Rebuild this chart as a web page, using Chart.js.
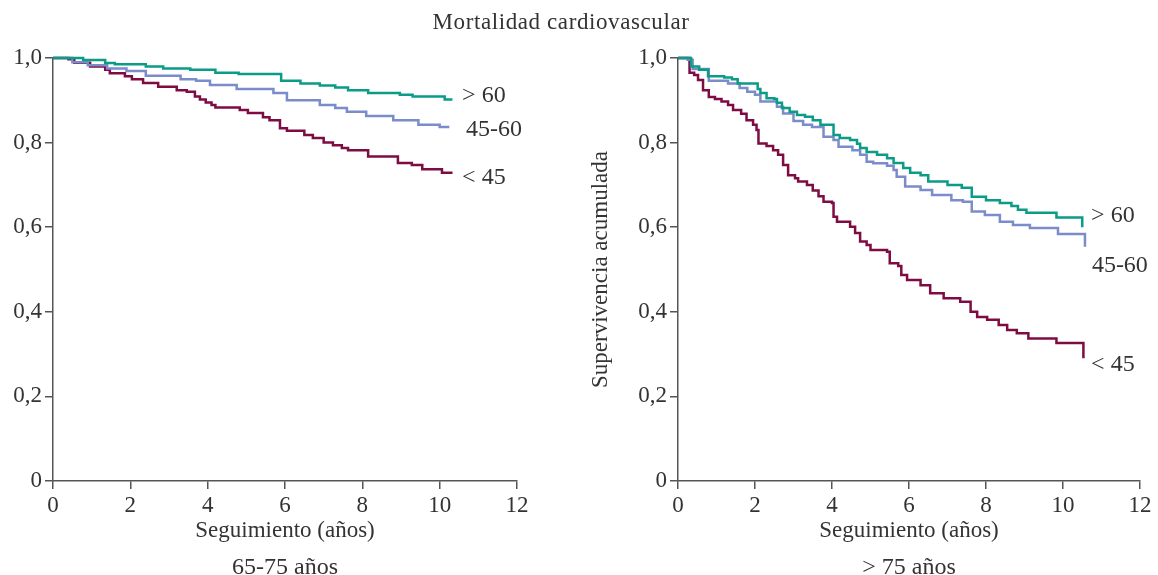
<!DOCTYPE html>
<html>
<head>
<meta charset="utf-8">
<title>Mortalidad cardiovascular</title>
<script src="https://cdn.jsdelivr.net/npm/chart.js@4"></script>
<style>
  body { margin: 0; background: #fff; }
  #wrap { position: relative; width: 1158px; height: 575px; font-family: "Liberation Serif", "DejaVu Serif", serif; color: #333; }
  canvas { position: absolute; top: 0; }
  .txt { position: absolute; font-size: 24px; white-space: nowrap; transform: translate(-50%, -50%); }
</style>
</head>
<body>
<div id="wrap">
  <canvas id="left" width="579" height="575" style="left:0"></canvas>
  <canvas id="right" width="579" height="575" style="left:579px"></canvas>
  <div class="txt" style="left:561px; top:22px; font-size:23px; letter-spacing:0.6px">Mortalidad cardiovascular</div>
  <div class="txt" style="left:285px; top:566px">65-75 años</div>
  <div class="txt" style="left:909px; top:566px">&gt; 75 años</div>
</div>
<script>
// series names
const groups = ['> 60', '45-60', '< 45'];
const colors = ['#0a9c86', '#7b8ccb', '#7e0c42'];

// 65-75 años: follow-up time (years) and cumulative survival at each step
const young_gt60_t = [0, 0.78, 1.35, 1.6, 2.4, 2.85, 3.55, 4.2, 4.8, 5.9, 6.4, 6.9, 7.3, 7.63, 8.15, 8.97, 9.3, 10.13, 10.33];
const young_gt60_s = [1.0, 0.995, 0.988, 0.985, 0.98, 0.975, 0.972, 0.965, 0.962, 0.946, 0.94, 0.935, 0.93, 0.924, 0.917, 0.913, 0.909, 0.902, 0.902];

const young_mid_t = [0, 0.5, 0.9, 1.4, 1.9, 2.4, 3.3, 3.7, 4.06, 4.75, 5.7, 6.05, 6.9, 7.3, 7.6, 8.1, 8.8, 9.45, 10.0, 10.25];
const young_mid_s = [1.0, 0.99, 0.983, 0.975, 0.969, 0.958, 0.95, 0.946, 0.936, 0.927, 0.917, 0.9, 0.889, 0.882, 0.873, 0.863, 0.853, 0.842, 0.837, 0.837];

const young_lt45_t = [0, 0.4, 0.55, 0.96, 1.35, 1.47, 1.86, 2.04, 2.33, 2.72, 3.2, 3.46, 3.67, 3.8, 3.95, 4.1, 4.2, 4.83, 5.04, 5.43, 5.6, 5.87, 6.05, 6.5, 6.72, 7.0, 7.24, 7.47, 7.63, 8.15, 8.92, 9.28, 9.55, 10.06, 10.3];
const young_lt45_s = [1.0, 0.997, 0.989, 0.98, 0.972, 0.964, 0.957, 0.95, 0.941, 0.932, 0.924, 0.92, 0.909, 0.902, 0.895, 0.889, 0.883, 0.877, 0.87, 0.86, 0.853, 0.834, 0.828, 0.818, 0.811, 0.8, 0.794, 0.787, 0.782, 0.767, 0.752, 0.747, 0.737, 0.729, 0.726];

// > 75 años
const old_gt60_t = [0, 0.34, 0.55, 0.78, 1.2, 1.4, 1.55, 2.07, 2.14, 2.3, 2.5, 2.57, 2.7, 2.9, 3.09, 3.3, 3.5, 3.7, 4.04, 4.2, 4.47, 4.65, 4.73, 4.9, 5.17, 5.43, 5.6, 5.85, 6.03, 6.3, 6.5, 7.0, 7.37, 7.63, 8.0, 8.36, 8.66, 8.83, 9.05, 9.83, 10.5];
const old_gt60_s = [1.0, 0.98, 0.972, 0.957, 0.954, 0.95, 0.94, 0.927, 0.917, 0.905, 0.903, 0.894, 0.882, 0.873, 0.865, 0.861, 0.853, 0.842, 0.818, 0.811, 0.806, 0.797, 0.787, 0.778, 0.771, 0.763, 0.752, 0.74, 0.729, 0.723, 0.708, 0.7, 0.693, 0.672, 0.664, 0.657, 0.65, 0.641, 0.634, 0.623, 0.6];

const old_mid_t = [0, 0.25, 0.38, 0.8, 1.3, 1.6, 1.8, 2.0, 2.14, 2.57, 2.73, 3.0, 3.25, 3.48, 3.78, 4.04, 4.17, 4.53, 4.73, 4.9, 5.07, 5.43, 5.6, 5.68, 5.9, 6.3, 6.6, 7.1, 7.4, 7.63, 7.97, 8.36, 8.7, 9.14, 9.87, 10.57];
const old_mid_s = [1.0, 0.996, 0.974, 0.946, 0.94, 0.929, 0.92, 0.913, 0.897, 0.885, 0.869, 0.851, 0.842, 0.837, 0.814, 0.806, 0.79, 0.782, 0.771, 0.755, 0.751, 0.745, 0.735, 0.719, 0.696, 0.688, 0.676, 0.664, 0.66, 0.637, 0.629, 0.613, 0.605, 0.598, 0.584, 0.554];

const old_lt45_t = [0, 0.3, 0.42, 0.52, 0.65, 0.8, 0.96, 1.13, 1.3, 1.43, 1.64, 1.78, 1.95, 2.04, 2.09, 2.3, 2.47, 2.6, 2.73, 2.86, 3.04, 3.12, 3.35, 3.5, 3.65, 3.78, 4.0, 4.04, 4.13, 4.47, 4.6, 4.73, 4.9, 5.0, 5.43, 5.5, 5.72, 5.8, 5.95, 6.3, 6.55, 6.9, 7.33, 7.6, 7.77, 8.03, 8.33, 8.55, 8.8, 9.1, 9.83, 10.53];
const old_lt45_s = [1.0, 0.965, 0.96, 0.948, 0.924, 0.908, 0.903, 0.897, 0.889, 0.877, 0.868, 0.853, 0.842, 0.83, 0.798, 0.792, 0.782, 0.771, 0.747, 0.723, 0.716, 0.708, 0.7, 0.687, 0.673, 0.66, 0.657, 0.625, 0.613, 0.601, 0.586, 0.566, 0.558, 0.546, 0.542, 0.515, 0.508, 0.487, 0.475, 0.463, 0.444, 0.432, 0.424, 0.4, 0.388, 0.381, 0.369, 0.357, 0.349, 0.337, 0.326, 0.29];

// axis ticks
const xTicks = [0, 2, 4, 6, 8, 10, 12];
const yTicks = [0, 0.2, 0.4, 0.6, 0.8, 1.0];

const FONT = '"Liberation Serif", "DejaVu Serif", serif';
Chart.defaults.font.family = FONT;
Chart.defaults.font.size = 23;
Chart.defaults.color = '#333';

const toPoints = (t, s) => t.map((v, i) => ({ x: v, y: s[i] }));

// writes the group names beside the curves
const groupLabels = {
  id: 'groupLabels',
  afterDatasetsDraw(chart, args, opts) {
    const { ctx, scales: { x, y } } = chart;
    ctx.save();
    ctx.font = '24px ' + FONT;
    ctx.fillStyle = '#333';
    ctx.textBaseline = 'middle';
    opts.items.forEach(it => {
      ctx.fillText(it.text, x.getPixelForValue(it.x), y.getPixelForValue(it.y));
    });
    ctx.restore();
  }
};

function makeChart(id, series, yWidth, padRight, yTitle, labelPos) {
  const axisColor = '#555';
  return new Chart(document.getElementById(id), {
    type: 'line',
    data: {
      datasets: series.map((pts, i) => ({
        label: groups[i],
        data: pts,
        borderColor: colors[i],
        borderWidth: 2.5,
        pointRadius: 0,
        stepped: 'before',
        fill: false,
        clip: 5
      }))
    },
    options: {
      responsive: false,
      animation: false,
      layout: { padding: { top: 58, left: 0, right: padRight, bottom: 30 } },
      plugins: {
        legend: { display: false },
        tooltip: { enabled: false },
        groupLabels: { items: labelPos }
      },
      scales: {
        x: {
          type: 'linear',
          min: 0,
          max: 12,
          afterBuildTicks: s => { s.ticks = xTicks.map(v => ({ value: v })); },
          ticks: { padding: 3, maxRotation: 0, autoSkip: false },
          grid: { drawOnChartArea: false, tickLength: 8, color: axisColor, lineWidth: 1.5 },
          border: { color: axisColor, width: 1.5 },
          title: { display: true, text: 'Seguimiento (años)', padding: 0 },
          afterFit: s => { s.height = 64; s.paddingLeft = 0; s.paddingRight = 0; }
        },
        y: {
          min: 0,
          max: 1,
          afterBuildTicks: s => { s.ticks = yTicks.map(v => ({ value: v })); },
          ticks: {
            padding: 3,
            callback: v => v === 0 ? '0' : v.toFixed(1).replace('.', ',')
          },
          grid: { drawOnChartArea: false, tickLength: 8, color: axisColor, lineWidth: 1.5 },
          border: { color: axisColor, width: 1.5 },
          title: { display: !!yTitle, text: yTitle || '', padding: { top: 8, bottom: 0 } },
          afterFit: s => { s.width = yWidth; s.paddingTop = 0; s.paddingBottom = 0; }
        }
      }
    },
    plugins: [groupLabels]
  });
}

makeChart('left', [
  toPoints(young_gt60_t, young_gt60_s),
  toPoints(young_mid_t, young_mid_s),
  toPoints(young_lt45_t, young_lt45_s)
], 53, 62, null, [
  { text: groups[0], x: 10.58, y: 0.912 },
  { text: groups[1], x: 10.68, y: 0.83 },
  { text: groups[2], x: 10.58, y: 0.717 }
]);

makeChart('right', [
  toPoints(old_gt60_t, old_gt60_s),
  toPoints(old_mid_t, old_mid_s),
  toPoints(old_lt45_t, old_lt45_s)
], 99, 18, 'Supervivencia acumulada', [
  { text: groups[0], x: 10.73, y: 0.628 },
  { text: groups[1], x: 10.75, y: 0.508 },
  { text: groups[2], x: 10.73, y: 0.276 }
]);
</script>
</body>
</html>
